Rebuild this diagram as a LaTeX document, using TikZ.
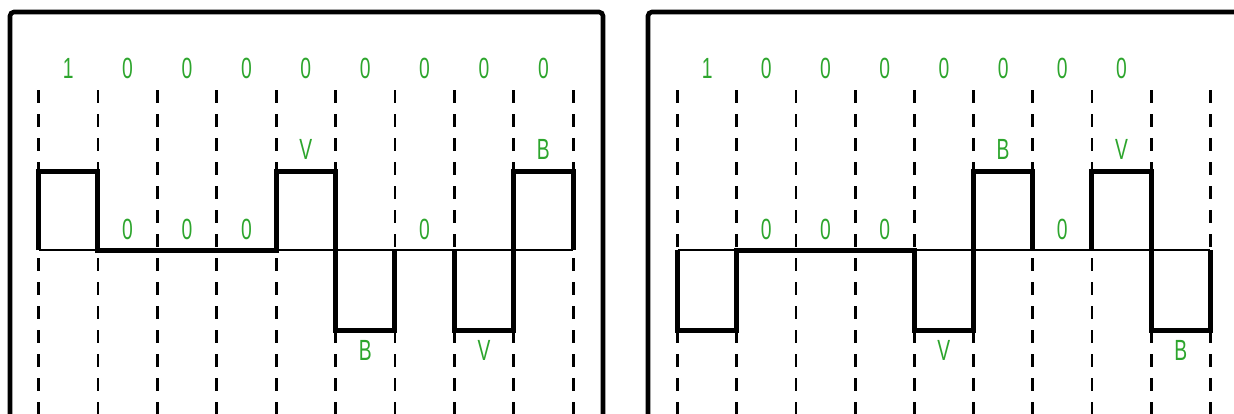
\documentclass[tikz,border=0pt]{standalone}
\usepackage{fontspec}
\setmainfont{Liberation Sans}
\usetikzlibrary{positioning}
\definecolor{BitGreen}{RGB}{45,165,45}
\newcommand{\narrowtxt}[1]{\scalebox{0.66}[1]{#1}}

\begin{document}
\begin{tikzpicture}[x=0.5pt, y=-0.5pt,
  every node/.style={font=\fontsize{14.6}{15}\selectfont, text=BitGreen, inner sep=0pt},
  frame/.style={line width=2.3pt, rounded corners=2pt},
  slot/.style={line width=1.4pt, dash pattern=on 6.5pt off 5.5pt},
  level/.style={line width=2.5pt},
  axis/.style={line width=1pt}]
\useasboundingbox (0,0) rectangle (1234,413);
% panel frames
\draw[frame] (10,420) -- (10,12) -- (603,12) -- (603,420);
\draw[frame] (648,420) -- (648,12) -- (1245,12);
% levels
\coordinate (hi) at (0,171);
\coordinate (lo) at (0,330);
% slot boundaries on the zero line
\foreach \i in {0,...,9} {
  \coordinate (a\i) at ({38.5+59.4*\i},250);
  \coordinate (b\i) at ({677.5+59.2*\i},250);
  \draw[slot] ({38.5+59.4*\i},90) -- ({38.5+59.4*\i},420);
  \draw[slot] ({677.5+59.2*\i},90) -- ({677.5+59.2*\i},420);
}
% bit row
\foreach \b [count=\i from 0] in {1,0,0,0,0,0,0,0,0}
  \node (bitA\i) at ({68.2+59.4*\i},68) {\narrowtxt{\b}};
\foreach \b [count=\i from 0] in {1,0,0,0,0,0,0,0}
  \node (bitB\i) at ({707.1+59.2*\i},68) {\narrowtxt{\b}};
% zero line
\draw[axis] (a0) -- (a9);
\draw[axis] (b0) -- (b9);
% left waveform
\draw[level] (a0) -- (a0 |- hi) -- (a1 |- hi) -- (a1) -- (a4) -- (a4 |- hi) -- (a5 |- hi)
  -- (a5 |- lo) -- (a6 |- lo) -- (a6);
\draw[level] (a7) -- (a7 |- lo) -- (a8 |- lo) -- (a8 |- hi) -- (a9 |- hi) -- (a9);
% right waveform
\draw[level] (b0) -- (b0 |- lo) -- (b1 |- lo) -- (b1) -- (b4) -- (b4 |- lo) -- (b5 |- lo)
  -- (b5 |- hi) -- (b6 |- hi) -- (b6);
\draw[level] (b7) -- (b7 |- hi) -- (b8 |- hi) -- (b8 |- lo) -- (b9 |- lo) -- (b9);
% substitution marks
\foreach \i in {1,2,3,6}
  \node (zeroA\i) at ({68.2+59.4*\i},229) {\narrowtxt{0}};
\foreach \i in {1,2,3,6}
  \node (zeroB\i) at ({707.1+59.2*\i},229) {\narrowtxt{0}};
\node (vA1) at ({68.2+59.4*4},149) {\narrowtxt{V}};
\node (bA1) at ({68.2+59.4*8},149) {\narrowtxt{B}};
\node (bA2) at ({68.2+59.4*5},350) {\narrowtxt{B}};
\node (vA2) at ({68.2+59.4*7},350) {\narrowtxt{V}};
\node (bB1) at ({707.1+59.2*5},149) {\narrowtxt{B}};
\node (vB1) at ({707.1+59.2*7},149) {\narrowtxt{V}};
\node (vB2) at ({707.1+59.2*4},350) {\narrowtxt{V}};
\node (bB2) at ({707.1+59.2*8},350) {\narrowtxt{B}};
\end{tikzpicture}
\end{document}
